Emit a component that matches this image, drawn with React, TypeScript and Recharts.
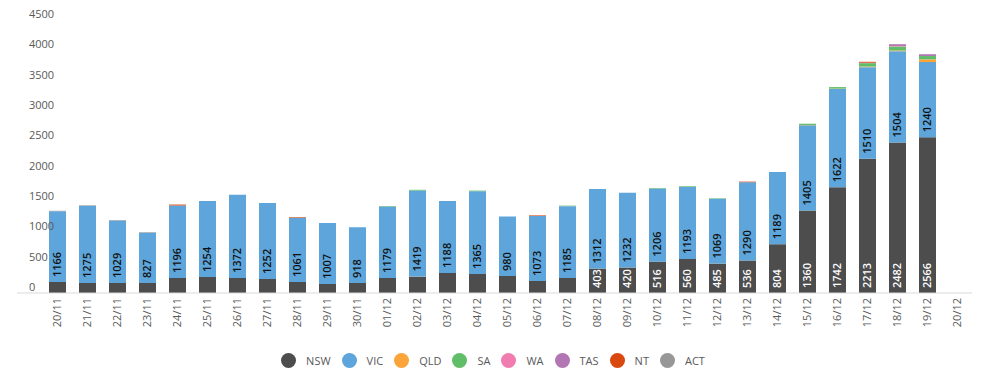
import { BarChart, Bar, XAxis, YAxis, Legend, LabelList } from 'recharts';

// daily cases by state, 20 Nov – 20 Dec
const dates = [
  '20/11', '21/11', '22/11', '23/11', '24/11', '25/11', '26/11', '27/11', '28/11', '29/11', '30/11',
  '01/12', '02/12', '03/12', '04/12', '05/12', '06/12', '07/12', '08/12', '09/12', '10/12',
  '11/12', '12/12', '13/12', '14/12', '15/12', '16/12', '17/12', '18/12', '19/12', '20/12',
];

const nsw = [181, 165, 165, 165, 247, 264, 247, 231, 181, 148, 165, 247, 270, 330, 313, 280, 198, 247, 403, 420, 516, 560, 485, 536, 804, 1360, 1742, 2213, 2482, 2566, null];
const vic = [1166, 1275, 1029, 827, 1196, 1254, 1372, 1252, 1061, 1007, 918, 1179, 1419, 1188, 1365, 980, 1073, 1185, 1312, 1232, 1206, 1193, 1069, 1290, 1189, 1405, 1622, 1510, 1504, 1240, null];
const qld = [0, 0, 0, 0, 0, 0, 0, 0, 0, 0, 0, 0, 0, 0, 0, 0, 0, 0, 0, 0, 0, 0, 0, 0, 0, 5, 5, 10, 12, 45, null];
const sa = [0, 0, 0, 0, 0, 0, 0, 0, 0, 0, 0, 8, 12, 0, 10, 0, 0, 8, 0, 0, 8, 10, 8, 0, 0, 20, 25, 55, 65, 55, null];
const wa = [0, 0, 0, 0, 0, 0, 0, 0, 0, 0, 0, 0, 0, 0, 0, 0, 0, 0, 0, 0, 0, 0, 0, 0, 0, 0, 0, 0, 8, 0, null];
const tas = [0, 0, 0, 0, 0, 0, 0, 0, 0, 0, 0, 0, 0, 0, 0, 0, 0, 0, 0, 0, 0, 0, 0, 0, 0, 0, 0, 8, 30, 30, null];
const nt = [0, 0, 0, 0, 15, 0, 0, 0, 10, 0, 0, 0, 0, 0, 0, 0, 10, 0, 0, 0, 0, 0, 0, 10, 0, 0, 0, 15, 0, 0, null];
const act = [8, 8, 8, 10, 0, 0, 0, 0, 0, 0, 0, 0, 0, 0, 0, 0, 0, 0, 0, 0, 0, 0, 0, 0, 0, 0, 0, 0, 0, 0, null];

const yTicks = [0, 500, 1000, 1500, 2000, 2500, 3000, 3500, 4000, 4500];

const states = [
  { key: 'NSW', color: '#4d4d4d' },
  { key: 'VIC', color: '#5da5da' },
  { key: 'QLD', color: '#faa43a' },
  { key: 'SA', color: '#60bd68' },
  { key: 'WA', color: '#f17cb0' },
  { key: 'TAS', color: '#b276b2' },
  { key: 'NT', color: '#d9480f' },
  { key: 'ACT', color: '#979797' },
];

const data = dates.map((date, i) => ({
  date,
  NSW: nsw[i],
  VIC: vic[i],
  QLD: qld[i],
  SA: sa[i],
  WA: wa[i],
  TAS: tas[i],
  NT: nt[i],
  ACT: act[i],
}));

const font = '"Open Sans", sans-serif';

const YTick = ({ x, y, payload }: any) => (
  <text x={x + 12} y={y - 6} dy="0.35em" textAnchor="start" fill="#595959" fontSize={11} fontFamily={font}>
    {payload.value}
  </text>
);

const XTick = ({ x, y, payload }: any) => (
  <text
    x={x}
    y={y}
    dy="0.35em"
    textAnchor="end"
    transform={`rotate(-90, ${x}, ${y})`}
    fill="#595959"
    fontSize={11}
    fontFamily={font}
  >
    {payload.value}
  </text>
);

const makeLabel = (color: string, min: number) => (props: any) => {
  const { x, y, width, height, value } = props;
  if (value == null || value < min) return null;
  const cx = x + width / 2;
  const by = y + height - 5;
  return (
    <text
      x={cx}
      y={by}
      dy="0.35em"
      textAnchor="start"
      transform={`rotate(-90, ${cx}, ${by})`}
      fill={color}
      fontSize={11}
      fontWeight={600}
      fontFamily={font}
    >
      {value}
    </text>
  );
};

const LegendContent = () => (
  <div
    style={{
      display: 'flex',
      justifyContent: 'center',
      alignItems: 'center',
      height: 16,
      fontFamily: font,
      fontSize: 11,
      color: '#595959',
      paddingLeft: 8,
    }}
  >
    {states.map((s) => (
      <span key={s.key} style={{ display: 'flex', alignItems: 'center', marginRight: 11 }}>
        <span
          style={{
            width: 15,
            height: 15,
            borderRadius: '50%',
            background: s.color,
            display: 'inline-block',
            marginRight: 10,
          }}
        />
        {s.key}
      </span>
    ))}
  </div>
);

export default function App() {
  return (
    <div style={{ marginTop: -8 }}>
      <BarChart
        width={984}
        height={378}
        data={data}
        margin={{ top: 20, right: 20, bottom: 10, left: 9 }}
      >
        <XAxis
          dataKey="date"
          height={59}
          padding={{ left: 25, right: 0 }}
          tickLine={false}
          tickSize={0}
          tickMargin={5}
          interval={0}
          stroke="#d9d9d9"
          tick={<XTick />}
        />
        <YAxis
          mirror
          domain={[0, 4500]}
          ticks={yTicks}
          axisLine={false}
          tickLine={false}
          tickSize={0}
          tickMargin={0}
          tick={<YTick />}
        />
        <Legend verticalAlign="bottom" content={<LegendContent />} />
        {states.map((s) => (
          <Bar key={s.key} dataKey={s.key} stackId="a" fill={s.color} barSize={17} isAnimationActive={false}>
            {s.key === 'NSW' && <LabelList dataKey="NSW" content={makeLabel('#ffffff', 400)} />}
            {s.key === 'VIC' && <LabelList dataKey="VIC" content={makeLabel('#111111', 0)} />}
          </Bar>
        ))}
      </BarChart>
    </div>
  );
}
